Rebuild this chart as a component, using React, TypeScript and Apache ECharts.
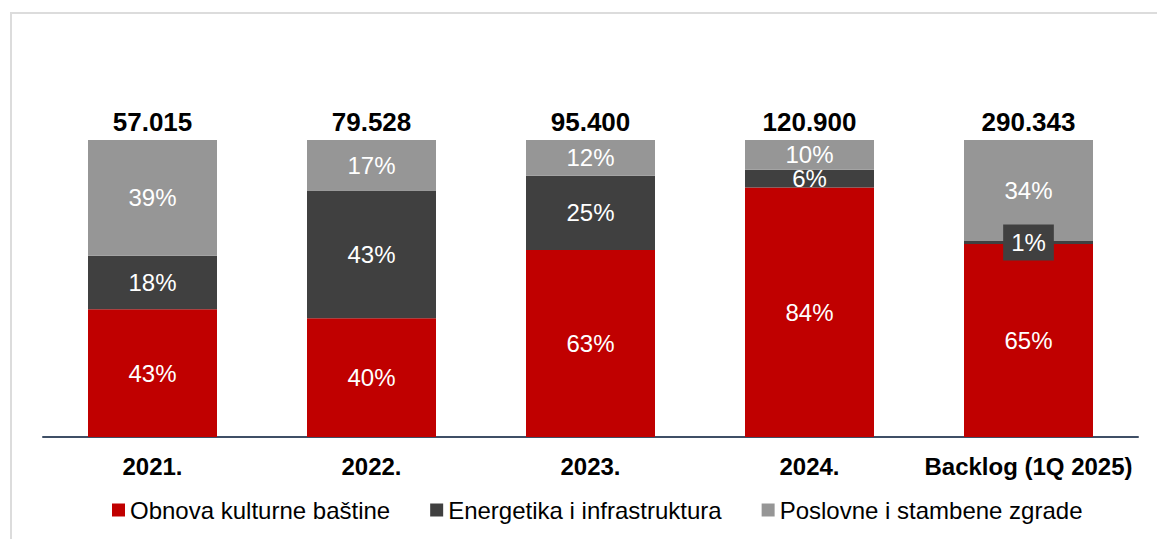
import React, { useEffect, useRef } from "react";
import * as echarts from "echarts";

const categories = ["2021.", "2022.", "2023.", "2024.", "Backlog (1Q 2025)"];
const totals = ["57.015", "79.528", "95.400", "120.900", "290.343"];
const obnova = [43, 40, 63, 84, 65];
const energetika = [18, 43, 25, 6, 1];
const poslovne = [39, 17, 12, 10, 34];
const seriesNames = ["Obnova kulturne baštine", "Energetika i infrastruktura", "Poslovne i stambene zgrade"];
const colors = ["#C00000", "#404040", "#969696"];

export default function App() {
  const ref = useRef<HTMLDivElement>(null);
  useEffect(() => {
    if (!ref.current) return;
    const chart = echarts.init(ref.current, null, { renderer: "svg" });
    const font = "'Liberation Sans', Arial, sans-serif";
    const pctLabel = {
      show: true,
      position: "inside",
      color: "#ffffff",
      fontSize: 24,
      fontFamily: font,
      formatter: "{c}%",
    };
    const energData = energetika.map((v, i) =>
      i === 4
        ? { value: v, label: { backgroundColor: "#404040", padding: [6, 8] } }
        : v
    );
    chart.setOption({
      animation: false,
      textStyle: { fontFamily: font },
      grid: { left: 43, right: 19, top: 140, bottom: 102 },
      legend: {
        data: seriesNames,
        left: 112,
        top: 498,
        padding: 0,
        icon: "rect",
        itemWidth: 13,
        itemHeight: 13,
        itemGap: 40,
        textStyle: { fontSize: 24, color: "#000", fontFamily: font },
      },
      xAxis: {
        type: "category",
        data: categories,
        axisTick: { show: false },
        axisLine: { lineStyle: { color: "#3F4F66", width: 2 } },
        axisLabel: { interval: 0, fontSize: 24, fontWeight: "bold", color: "#000", margin: 17, fontFamily: font },
      },
      yAxis: { type: "value", min: 0, max: 100, show: false, splitLine: { show: false } },
      series: [
        { name: seriesNames[0], type: "bar", stack: "s", barWidth: 129, data: obnova, itemStyle: { color: colors[0] }, label: pctLabel },
        { name: seriesNames[1], type: "bar", stack: "s", barWidth: 129, data: energData, itemStyle: { color: colors[1] }, label: pctLabel },
        { name: seriesNames[2], type: "bar", stack: "s", barWidth: 129, data: poslovne, itemStyle: { color: colors[2] }, label: pctLabel },
        {
          name: "total",
          type: "bar",
          stack: "s",
          barWidth: 129,
          data: totals.map(() => 0),
          itemStyle: { color: "transparent" },
          label: {
            show: true,
            position: "top",
            distance: 5,
            fontSize: 26,
            fontWeight: "bold",
            color: "#000",
            fontFamily: font,
            formatter: (p: any) => totals[p.dataIndex],
          },
        },
      ],
      graphic: [
        { type: "line", shape: { x1: 10, y1: 13, x2: 1157, y2: 13 }, style: { stroke: "#dcdcdc", lineWidth: 2 } },
        { type: "line", shape: { x1: 11, y1: 13, x2: 11, y2: 539 }, style: { stroke: "#dcdcdc", lineWidth: 2 } },
      ],
    });
    return () => chart.dispose();
  }, []);
  return (
    <div
      ref={ref}
      style={{ position: "fixed", left: 0, top: 0, width: 1157, height: 539, background: "#fff" }}
    />
  );
}
